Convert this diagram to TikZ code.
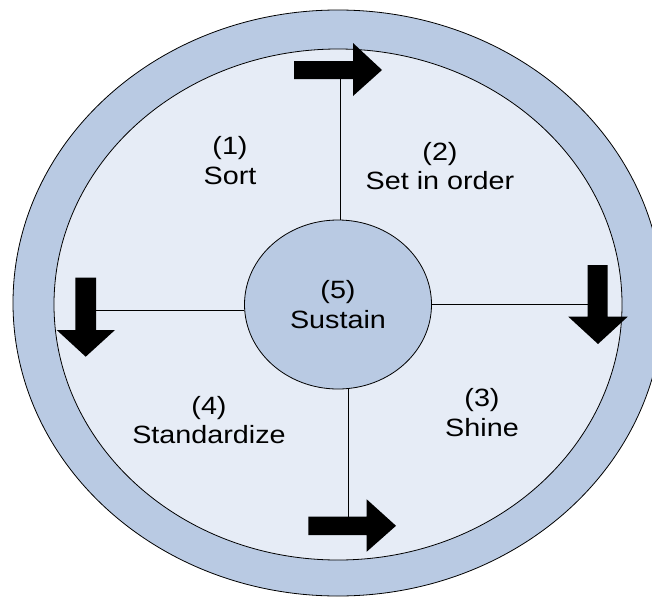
\documentclass[tikz,border=0pt]{standalone}
\usepackage{fontspec}
\setmainfont{Liberation Sans}[FakeStretch=1.15]
\usetikzlibrary{shapes.geometric}
\definecolor{ringblue}{HTML}{B9CAE3}
\definecolor{innerblue}{HTML}{E6ECF6}
\begin{document}
\begin{tikzpicture}[x=1pt,y=-1pt,
  outline/.style={draw=black,line width=0.8pt},
  lbl/.style={align=center,inner sep=0pt,anchor=south,
    font=\fontsize{25pt}{29.4pt}\selectfont},
  link/.style={draw=black,line width=0.8pt},
  blockarrow/.style={fill=black,draw=none}]
\useasboundingbox (0,0) rectangle (652,597);
% rings
\fill[ringblue,outline] (338,303) ellipse [x radius=325,y radius=293];
\fill[innerblue,outline] (338,304.5) ellipse [x radius=284,y radius=255.5];
% centre
\node[ellipse,outline,fill=ringblue,minimum width=187,minimum height=169,inner sep=0pt,
  align=center,font=\fontsize{25pt}{29.4pt}\selectfont] (c5) at (338,304.5) {(5)\\Sustain};
% block arrows
\fill[blockarrow] (294,61) -- (353,61) -- (353,43) -- (382,70) -- (353,96) -- (353,79) -- (294,79) -- cycle;
\fill[blockarrow] (587.7,265) -- (607.7,265) -- (607.7,316.7) -- (627.7,316.7) -- (598,344) -- (568.3,316.7) -- (587.7,316.7) -- cycle;
\fill[blockarrow] (308.3,516.7) -- (366.7,516.7) -- (366.7,499.3) -- (396,525.8) -- (366.7,551.7) -- (366.7,535) -- (308.3,535) -- cycle;
\fill[blockarrow] (75.3,277.7) -- (96,277.7) -- (96,330) -- (115,330) -- (85.7,356.7) -- (56.7,330) -- (75.3,330) -- cycle;
% connector end points on the arrow shafts
\coordinate (ta) at (340,79);
\coordinate (ra) at (587.7,304.3);
\coordinate (ba) at (348.3,516.7);
\coordinate (la) at (96,310);
\draw[link] (ta |- c5.north) -- (ta);
\draw[link] (ra -| c5.east) -- (ra);
\draw[link] (ba |- c5.south) -- (ba);
\draw[link] (la -| c5.west) -- (la);
% labels
\node[lbl] (t1) at (230,184.5) {(1)\\Sort};
\node[lbl] (t2) at (440,190) {(2)\\Set in order};
\node[lbl] (t3) at (482,436.6) {(3)\\Shine};
\node[lbl] (t4) at (209,444.3) {(4)\\Standardize};
\end{tikzpicture}
\end{document}
